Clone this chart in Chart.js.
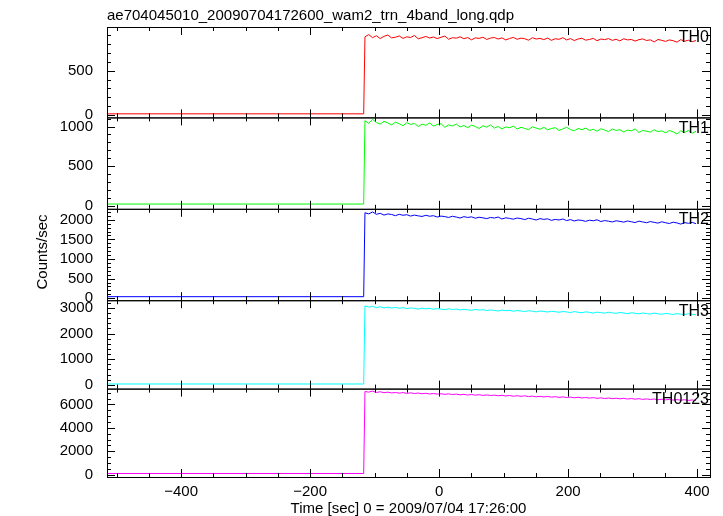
<!DOCTYPE html>
<html><head><meta charset="utf-8">
<script src="https://cdn.jsdelivr.net/npm/chart.js@4"></script>
<style>html,body{margin:0;padding:0;background:#fff}#c{display:block}</style>
</head><body><canvas id="c" width="723" height="516"></canvas>
<script>
const names=["TH0","TH1","TH2","TH3","TH0123"];
const colors=["#ff0000","#00ff00","#0000ff","#00ffff","#ff00ff"];
const tStart=-515, tStep=-117, tFirst=-115, binWidth=5.9;
const pre=[15,20,40,30,100];
const th0=[880,905,870,892,860,885,900,868,875,890,862,880,872,895,858,870,884,866,878,860,875,888,852,870,865,880,858,872,846,868,862,875,850,866,872,855,868,845,860,874,852,865,858,842,870,855,862,848,866,840,858,852,870,845,860,838,855,864,842,850,862,836,855,848,860,840,852,834,858,845,850,832,848,856,838,846,822,850,840,828,845,836,820,848,830,842,825,838];
const th1=[1075,1040,1090,1050,1030,1065,1045,1020,1055,1035,1010,1048,1025,1040,1000,1030,1015,1045,1005,1025,1035,990,1020,1008,1030,995,1012,985,1018,1000,975,1010,992,1020,980,1000,970,995,985,1005,968,990,975,960,995,980,965,990,958,975,985,950,970,990,962,945,975,960,980,950,965,940,972,955,935,968,950,960,930,955,945,970,925,950,940,930,958,935,945,920,950,932,905,945,925,950,915,940];
const th2=[2180,2150,2200,2140,2165,2120,2150,2135,2105,2140,2115,2130,2095,2120,2100,2085,2115,2090,2105,2070,2095,2080,2060,2090,2070,2045,2080,2060,2075,2040,2065,2050,2030,2060,2045,2070,2020,2050,2035,2015,2045,2030,2005,2040,2020,1995,2030,2010,2025,1985,2010,1995,2020,1980,2005,1970,1995,1985,1960,1990,1975,2000,1955,1980,1965,1945,1975,1960,1940,1970,1950,1930,1965,1945,1925,1955,1935,1915,1950,1925,1905,1940,1920,1890,1930,1910,1935,1900];
const th3=[3080,3030,3060,3010,3045,3000,3030,2995,3020,2985,3010,2970,3000,2980,2955,2990,2965,2980,2945,2975,2950,2930,2965,2940,2955,2920,2945,2925,2905,2940,2915,2930,2895,2920,2900,2880,2915,2890,2905,2870,2895,2880,2860,2890,2870,2845,2880,2860,2840,2870,2850,2830,2860,2840,2820,2855,2830,2810,2845,2825,2800,2835,2815,2795,2830,2805,2790,2820,2800,2775,2810,2790,2770,2800,2780,2760,2795,2770,2750,2785,2765,2745,2775,2755,2740,2770,2750,2735];
const th0123=[7100,7050,7140,7020,7080,7000,7050,6980,7020,6960,7010,6940,6990,6930,6970,6910,6950,6890,6930,6880,6910,6860,6900,6840,6880,6820,6860,6800,6850,6790,6830,6770,6810,6760,6790,6740,6780,6720,6760,6700,6740,6690,6730,6670,6710,6650,6690,6640,6680,6620,6660,6600,6640,6590,6620,6570,6610,6550,6590,6540,6580,6520,6560,6500,6550,6490,6530,6480,6520,6460,6500,6450,6490,6430,6470,6420,6460,6400,6440,6390,6430,6370,6410,6360,6400,6340,6380,6320];
const series=[th0,th1,th2,th3,th0123];
const yMin=[-25,-40,-50,-150,-200], yMax=[990,1115,2280,3300,7350];
const yTicks=[[0,500],[0,500,1000],[0,500,1000,1500,2000],[0,1000,2000,3000],[0,2000,4000,6000]];
const yMinor=[100,100,100,200,500];
const xTicks=[-400,-200,0,200,400];
const xMin=-515,xMax=420;
const weights=[90,91,91,88,88];
const FONT="'Liberation Sans', Arial, sans-serif";

const datasets=series.map((s,i)=>({
  data:[{x:tStart,y:pre[i]},{x:tStep,y:pre[i]}].concat(s.map((v,j)=>({x:tFirst+j*binWidth,y:v}))),
  borderColor:colors[i],borderWidth:1,pointRadius:0,yAxisID:'y'+i,tension:0
}));
const scales={x:{type:'linear',min:xMin,max:xMax,
  afterBuildTicks:s=>{s.ticks=xTicks.map(v=>({value:v}));},
  afterFit:s=>{s.height=39;},
  grid:{display:false},border:{display:false},
  ticks:{color:'#000',font:{family:FONT,size:15},padding:-2,maxRotation:0,autoSkip:false,callback:v=>String(v).replace('-','\u2212')}}};
for(let k=4;k>=0;k--){
  scales['y'+k]={type:'linear',stack:'p',stackWeight:weights[k],min:yMin[k],max:yMax[k],position:'left',
    afterBuildTicks:s=>{s.ticks=yTicks[k].map(v=>({value:v}));},
    afterFit:s=>{s.width=60;},
    grid:{display:false},border:{display:false},
    ticks:{color:'#000',font:{family:FONT,size:15},padding:6,autoSkip:false,callback:v=>String(v)}};
}
const deco={id:'deco',afterDraw(c){
  const ctx=c.ctx,a=c.chartArea,xs=c.scales.x;
  ctx.save();ctx.strokeStyle='#000';ctx.lineWidth=1;
  for(let k=0;k<5;k++){
    const s=c.scales['y'+k];
    const t=s.top,b=s.bottom;
    ctx.strokeRect(a.left+0.5,t+0.5,a.right-a.left,b-t);
    ctx.beginPath();
    for(let v=Math.ceil(yMin[k]/yMinor[k])*yMinor[k];v<=yMax[k];v+=yMinor[k]){
      const y=Math.round(s.getPixelForValue(v))+0.5;
      const L=yTicks[k].includes(v)?8:4;
      ctx.moveTo(a.left,y);ctx.lineTo(a.left+L,y);
      ctx.moveTo(a.right,y);ctx.lineTo(a.right-L,y);
    }
    for(let v=-500;v<=xMax;v+=50){
      const x=Math.round(xs.getPixelForValue(v))+0.5;
      const L=xTicks.includes(v)?8:4;
      ctx.moveTo(x,b);ctx.lineTo(x,b-L);
      ctx.moveTo(x,t);ctx.lineTo(x,t+L);
    }
    ctx.stroke();
    ctx.fillStyle='#000';ctx.font='16px '+FONT;ctx.textAlign='right';ctx.textBaseline='top';
    ctx.fillText(names[k],a.right-1,t+3);
  }
  ctx.textAlign='left';ctx.textBaseline='alphabetic';ctx.font='15px '+FONT;
  ctx.fillText('ae704045010_20090704172600_wam2_trn_4band_long.qdp',a.left,20);
  ctx.textAlign='center';
  ctx.fillText('Time [sec] 0 = 2009/07/04 17:26:00',(a.left+a.right)/2,513);
  ctx.translate(47,252);ctx.rotate(-Math.PI/2);
  ctx.fillText('Counts/sec',0,0);
  ctx.restore();
}};
new Chart(document.getElementById('c'),{type:'line',data:{datasets},
  options:{responsive:false,animation:false,events:[],
    layout:{padding:{left:47,top:27,right:13,bottom:0}},
    plugins:{legend:{display:false},tooltip:{enabled:false}},scales},
  plugins:[deco]});
</script></body></html>
